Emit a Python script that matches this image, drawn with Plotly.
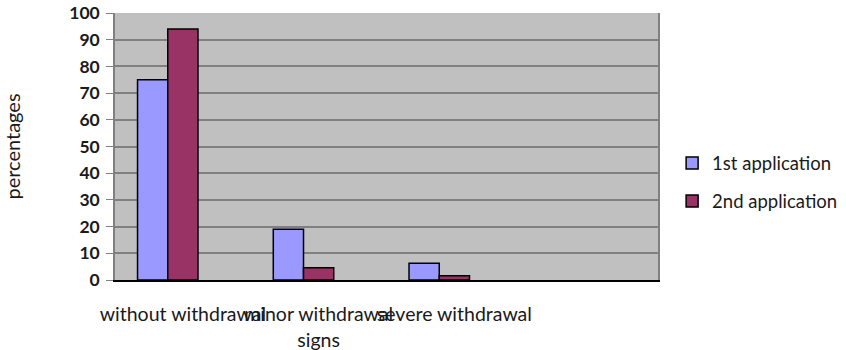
import plotly.graph_objects as go

categories = ["without withdrawal", "minor withdrawal<br>signs", "severe withdrawal"]
first_application = [75, 19, 6.3]
second_application = [94, 4.6, 1.6]
# Excel keeps a slot for an unused third series
unused_series = [None, None, None]
y_ticks = list(range(0, 101, 10))

text_color = "#1a1a1a"
label_size = 19.5

fig = go.Figure()
fig.add_trace(go.Bar(
    x=categories, y=first_application, name="1st application", legendgroup="first",
    marker=dict(color="#9999FF", line=dict(color="black", width=1.5)),
))
fig.add_trace(go.Bar(
    x=categories, y=second_application, name="2nd application", legendgroup="second",
    marker=dict(color="#993366", line=dict(color="black", width=1.5)),
))
fig.add_trace(go.Bar(
    x=categories, y=unused_series, showlegend=False, hoverinfo="skip",
    marker=dict(color="rgba(0,0,0,0)", line=dict(width=0)),
))

fig.update_layout(
    width=846, height=350,
    margin=dict(l=115, r=188, t=13, b=70, autoexpand=False),
    paper_bgcolor="white",
    plot_bgcolor="#C0C0C0",
    barmode="group",
    bargap=0.332,
    bargroupgap=0,
    font=dict(family="Lato", size=label_size, color=text_color),
    legend=dict(
        x=1.026, xanchor="left", y=0.365, yanchor="middle",
        font=dict(family="Lato", size=18.5, color=text_color),
        tracegroupgap=11,
    ),
    xaxis=dict(
        range=[-0.5, 3.5],
        showgrid=False,
        showline=True, linecolor="black", linewidth=2,
        ticks="", tickangle=0, automargin=False, ticklabelstandoff=16,
        tickfont=dict(family="Lato", size=label_size, color=text_color),
    ),
    yaxis=dict(
        range=[0, 100],
        tickvals=y_ticks,
        showgrid=True, gridcolor="#808080", gridwidth=1.5,
        zeroline=False, automargin=False,
        showline=True, linecolor="#808080", linewidth=1.5, mirror=True,
        ticks="outside", ticklen=7, tickcolor="#808080", ticklabelstandoff=3,
        tickfont=dict(family="Lato", size=17.5, color=text_color, weight="bold"),
        title=dict(text="percentages", standoff=46,
                   font=dict(family="Lato", size=20, color=text_color)),
    ),
)

fig.write_html("out.html")
